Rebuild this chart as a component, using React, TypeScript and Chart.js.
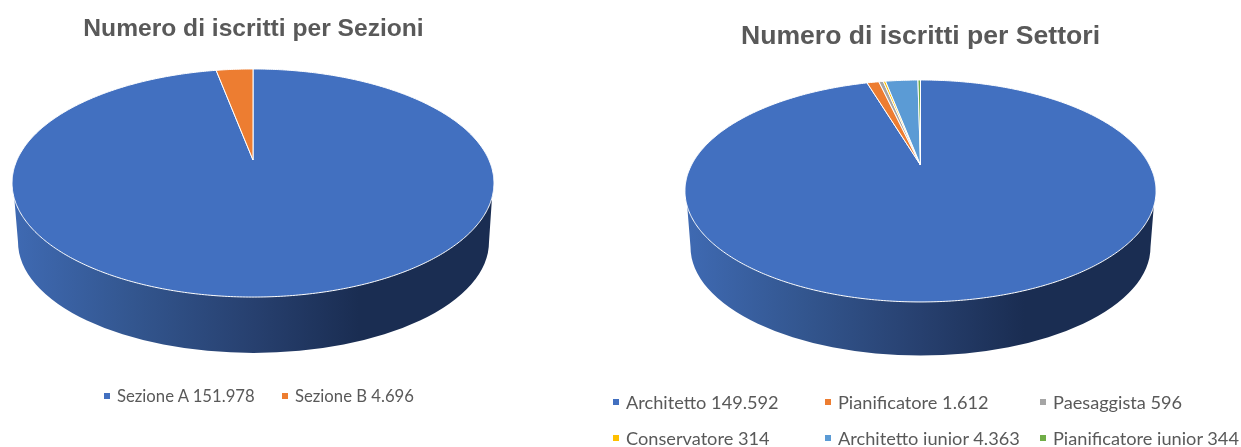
import React, { useEffect, useRef } from "react";
import { Chart, registerables } from "chart.js";

Chart.register(...registerables);

const sezioniTitle = "Numero di iscritti per Sezioni";
const sezioniLabels = ["Sezione A", "Sezione B"];
const sezioniValues = [151978, 4696];
const sezioniColors = ["#4270C0", "#ED7D31"];

const settoriTitle = "Numero di iscritti per Settori";
const settoriLabels = [
  "Architetto",
  "Pianificatore",
  "Paesaggista",
  "Conservatore",
  "Architetto iunior",
  "Pianificatore iunior",
];
const settoriValues = [149592, 1612, 596, 314, 4363, 344];
const settoriColors = ["#4270C0", "#ED7D31", "#A5A5A5", "#FFC000", "#5B9BD5", "#70AD47"];

// Groups thousands with a dot, Italian style.
const formatValue = (n: number) => String(n).replace(/\B(?=(\d{3})+$)/g, ".");

type Tilt = {
  cx: number; // screen x of the pie centre
  cy: number; // screen y of the pie centre (the slices' apex)
  a: number; // horizontal scale of the unit disc
  b: number; // vertical scale of the unit disc
  k: number; // perspective strength
  base: { cx: number; cy: number; rx: number; ry: number }; // lower rim of the cylinder wall
  rim: { rx: number; cy: number }; // widest chord of the top face
};

// Draws the pie's arcs on a tilted disc with a cylinder wall under it.
const tiltedPie = {
  id: "tiltedPie",
  beforeDatasetsDraw(chart: any, _args: any, opts: { tilt: Tilt }) {
    const { cx, cy, a, b, k, base, rim } = opts.tilt;
    const ctx: CanvasRenderingContext2D = chart.ctx;
    const project = (angle: number): [number, number] => {
      const u = Math.cos(angle);
      const v = Math.sin(angle);
      const w = 1 - k * v;
      return [cx + (a * u) / w, cy + (b * v) / w];
    };

    ctx.save();

    // Cylinder wall, shaded from left to right.
    const shade = ctx.createLinearGradient(cx - rim.rx, 0, cx + rim.rx, 0);
    shade.addColorStop(0, "#3F6AB3");
    shade.addColorStop(0.25, "#33568F");
    shade.addColorStop(0.5, "#27406F");
    shade.addColorStop(0.72, "#1A2D52");
    shade.addColorStop(1, "#1A2D52");
    ctx.fillStyle = shade;
    ctx.beginPath();
    ctx.moveTo(cx - rim.rx + 1, rim.cy);
    ctx.lineTo(base.cx - base.rx, base.cy);
    ctx.ellipse(base.cx, base.cy, base.rx, base.ry, 0, Math.PI, 0, true);
    ctx.lineTo(cx + rim.rx - 1, rim.cy);
    ctx.closePath();
    ctx.fill();

    // Top face: one wedge per arc element of the pie controller.
    const meta = chart.getDatasetMeta(0);
    const colors = chart.data.datasets[0].backgroundColor as string[];
    meta.data.forEach((arc: any, i: number) => {
      const { startAngle, endAngle } = arc.getProps(["startAngle", "endAngle"]);
      const steps = Math.max(2, Math.ceil((endAngle - startAngle) / 0.01));
      ctx.beginPath();
      ctx.moveTo(cx, cy);
      for (let s = 0; s <= steps; s++) {
        const [x, y] = project(startAngle + ((endAngle - startAngle) * s) / steps);
        ctx.lineTo(x, y);
      }
      ctx.closePath();
      ctx.fillStyle = colors[i];
      ctx.fill();
      ctx.strokeStyle = "#FFFFFF";
      ctx.lineWidth = 1;
      ctx.lineJoin = "round";
      ctx.stroke();
    });

    ctx.restore();
    return false;
  },
};

type PieProps = {
  left: number;
  width: number;
  title: string;
  titleSize: number;
  titleTop: number;
  labels: string[];
  values: number[];
  colors: string[];
  tilt: Tilt;
};

function TiltedPie({ left, width, title, titleSize, titleTop, labels, values, colors, tilt }: PieProps) {
  const ref = useRef<HTMLCanvasElement>(null);
  useEffect(() => {
    const chart = new Chart(ref.current!, {
      type: "pie",
      data: { labels, datasets: [{ data: values, backgroundColor: colors }] },
      options: {
        animation: false,
        responsive: false,
        layout: { padding: 0 },
        plugins: {
          legend: { display: false },
          tooltip: { enabled: false },
          title: {
            display: true,
            text: title,
            color: "#595959",
            font: { family: "'Liberation Sans', Arial, sans-serif", size: titleSize, weight: "bold" },
            padding: { top: titleTop, bottom: 0 },
          },
          tiltedPie: { tilt },
        } as any,
      },
      plugins: [tiltedPie as any],
    });
    return () => chart.destroy();
  }, []);
  return (
    <canvas
      ref={ref}
      width={width}
      height={447}
      style={{ position: "absolute", left, top: 0, width, height: 447 }}
    />
  );
}

type LegendItem = { label: string; value: number; color: string; x: number; y: number; size: number };

function LegendEntry({ label, value, color, x, y, size }: LegendItem) {
  return (
    <div
      style={{
        position: "absolute",
        left: x,
        top: y - 12,
        height: 24,
        lineHeight: "24px",
        whiteSpace: "nowrap",
        fontFamily: "Lato, sans-serif",
        fontSize: size,
        color: "#595959",
      }}
    >
      <span
        style={{
          position: "absolute",
          left: 0,
          top: 9,
          width: 6,
          height: 6,
          background: color,
        }}
      />
      <span style={{ marginLeft: 13 }}>{`${label} ${formatValue(value)}`}</span>
    </div>
  );
}

const sezioniSlots = [
  [104, 396],
  [282, 396],
];
const settoriSlots = [
  [613, 402],
  [825, 402],
  [1040, 402],
  [613, 438],
  [825, 438],
  [1040, 438],
];

export default function App() {
  useEffect(() => {
    document.body.style.margin = "0";
  }, []);
  return (
    <div
      style={{
        position: "relative",
        width: 1241,
        height: 447,
        overflow: "hidden",
        background: "#FFFFFF",
      }}
    >
      <TiltedPie
        left={0}
        width={507}
        title={sezioniTitle}
        titleSize={24.6}
        titleTop={14}
        labels={sezioniLabels}
        values={sezioniValues}
        colors={sezioniColors}
        tilt={{
          cx: 253,
          cy: 160,
          a: 236,
          b: 109.4,
          k: 0.2018,
          base: { cx: 253.5, cy: 242, rx: 235.5, ry: 111 },
          rim: { rx: 241, cy: 183 },
        }}
      />
      <TiltedPie
        left={600}
        width={641}
        title={settoriTitle}
        titleSize={26.6}
        titleTop={21}
        labels={settoriLabels}
        values={settoriValues}
        colors={settoriColors}
        tilt={{
          cx: 920.5 - 600,
          cy: 165,
          a: 229,
          b: 104.9,
          k: 0.234,
          base: { cx: 920.5 - 600, cy: 247, rx: 230, ry: 108.5 },
          rim: { rx: 235.5, cy: 191 },
        }}
      />
      {sezioniLabels.map((label, i) => (
        <LegendEntry
          key={label}
          label={label}
          value={sezioniValues[i]}
          color={sezioniColors[i]}
          x={sezioniSlots[i][0]}
          y={sezioniSlots[i][1]}
          size={16.7}
        />
      ))}
      {settoriLabels.map((label, i) => (
        <LegendEntry
          key={label}
          label={label}
          value={settoriValues[i]}
          color={settoriColors[i]}
          x={settoriSlots[i][0]}
          y={settoriSlots[i][1]}
          size={18.2}
        />
      ))}
    </div>
  );
}
